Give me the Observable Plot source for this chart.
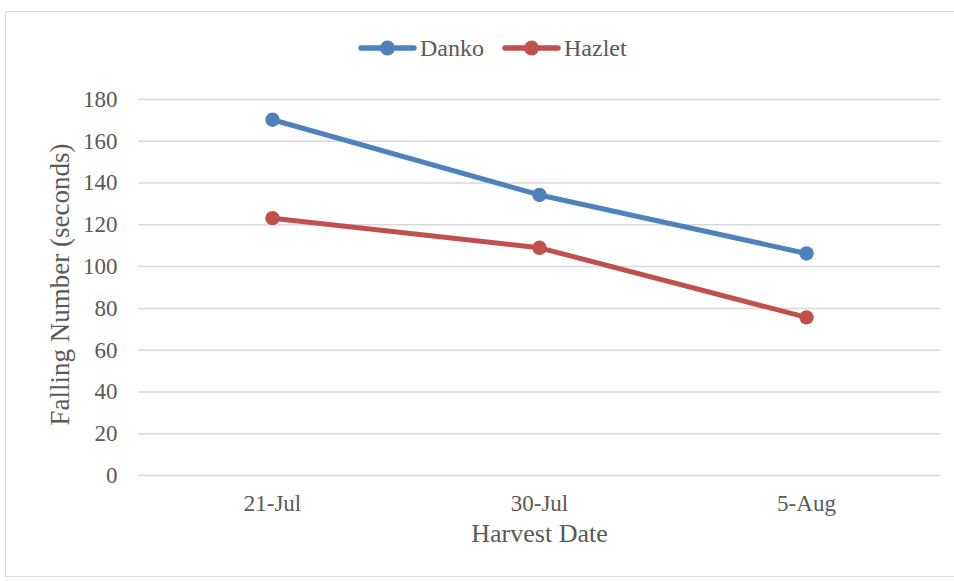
<!DOCTYPE html>
<html>
<head>
<meta charset="utf-8">
<script src="https://cdn.jsdelivr.net/npm/d3@7"></script>
<script src="https://cdn.jsdelivr.net/npm/@observablehq/plot@0.6"></script>
<style>
  html, body { margin: 0; padding: 0; background: #fff; }
  #wrap { position: relative; width: 954px; height: 581px; overflow: hidden; font-family: 'Liberation Serif', serif; color: #595959; }
  #frame { position: absolute; left: 5px; top: 11px; width: 960px; height: 566px; border: 1px solid #D9D9D9; box-sizing: border-box; }
  #legend { position: absolute; top: 28px; left: 0; }
  #chart { position: absolute; left: 0; top: 0; }
</style>
</head>
<body>
<div id="wrap">
  <div id="frame"></div>
  <div id="chart"></div>
  <svg id="legend" width="954" height="40"></svg>
</div>
<script>
const dates = ["21-Jul", "30-Jul", "5-Aug"];
const seriesNames = ["Danko", "Hazlet"];
const danko = [170.3, 134.3, 106.3];
const hazlet = [123.2, 109.0, 75.7];
const colors = ["#4F81BD", "#C0504D"];
const yTicks = [0, 20, 40, 60, 80, 100, 120, 140, 160, 180];
const xTitle = "Harvest Date";
const yTitle = "Falling Number (seconds)";

const rows = [];
dates.forEach((d, i) => {
  rows.push({date: d, series: "Danko", value: danko[i]});
  rows.push({date: d, series: "Hazlet", value: hazlet[i]});
});

const chart = Plot.plot({
  width: 954,
  height: 581,
  marginLeft: 138,
  marginRight: 14,
  marginTop: 99,
  marginBottom: 106,
  style: { fontFamily: "'Liberation Serif', serif", fontSize: "23px", color: "#595959", background: "transparent", overflow: "visible" },
  x: { type: "point", domain: dates, padding: 0.5 },
  y: { domain: [0, 180] },
  color: { domain: seriesNames, range: colors },
  marks: [
    Plot.gridY(yTicks, { stroke: "#D9D9D9", strokeOpacity: 1, strokeWidth: 1.5 }),
    Plot.axisY({ ticks: yTicks, tickSize: 0, tickPadding: 21, fontSize: 23, label: null }),
    Plot.axisX({ tickSize: 0, tickPadding: 19, fontSize: 23, label: null }),
    Plot.text([yTitle], { text: d => d, frameAnchor: "left", textAnchor: "middle", dx: -78, dy: -3, rotate: -90, fontSize: 27, fill: "#595959" }),
    Plot.text([xTitle], { text: d => d, frameAnchor: "bottom", dy: 66, fontSize: 26, fill: "#595959" }),
    Plot.line(rows, { x: "date", y: "value", z: "series", stroke: "series", strokeWidth: 5, strokeLinecap: "round" }),
    Plot.dot(rows, { x: "date", y: "value", fill: "series", r: 7.2, stroke: "none" })
  ]
});
document.getElementById("chart").appendChild(chart);

// legend (swatch + label per series)
const lg = d3.select("#legend");
const cy = 20, swatchW = 57, gapText = 4, gapItem = 21;
const items = lg.selectAll("g").data(seriesNames).join("g");
items.append("line").attr("x1", 2).attr("x2", swatchW - 2).attr("y1", cy).attr("y2", cy)
  .attr("stroke", (d, i) => colors[i]).attr("stroke-width", 5.5).attr("stroke-linecap", "round");
items.append("circle").attr("cx", swatchW / 2).attr("cy", cy).attr("r", 7.5).attr("fill", (d, i) => colors[i]);
items.append("text").attr("x", swatchW + gapText).attr("y", cy).attr("dy", "0.34em")
  .attr("font-family", "'Liberation Serif', serif").attr("font-size", 24).attr("fill", "#595959").text(d => d);
const widths = items.nodes().map(n => n.getBBox().width);
const total = d3.sum(widths) + gapItem * (widths.length - 1);
let x0 = (954 - total) / 2 + 15;
items.attr("transform", (d, i) => { const t = `translate(${x0},0)`; x0 += widths[i] + gapItem; return t; });
</script>
</body>
</html>
